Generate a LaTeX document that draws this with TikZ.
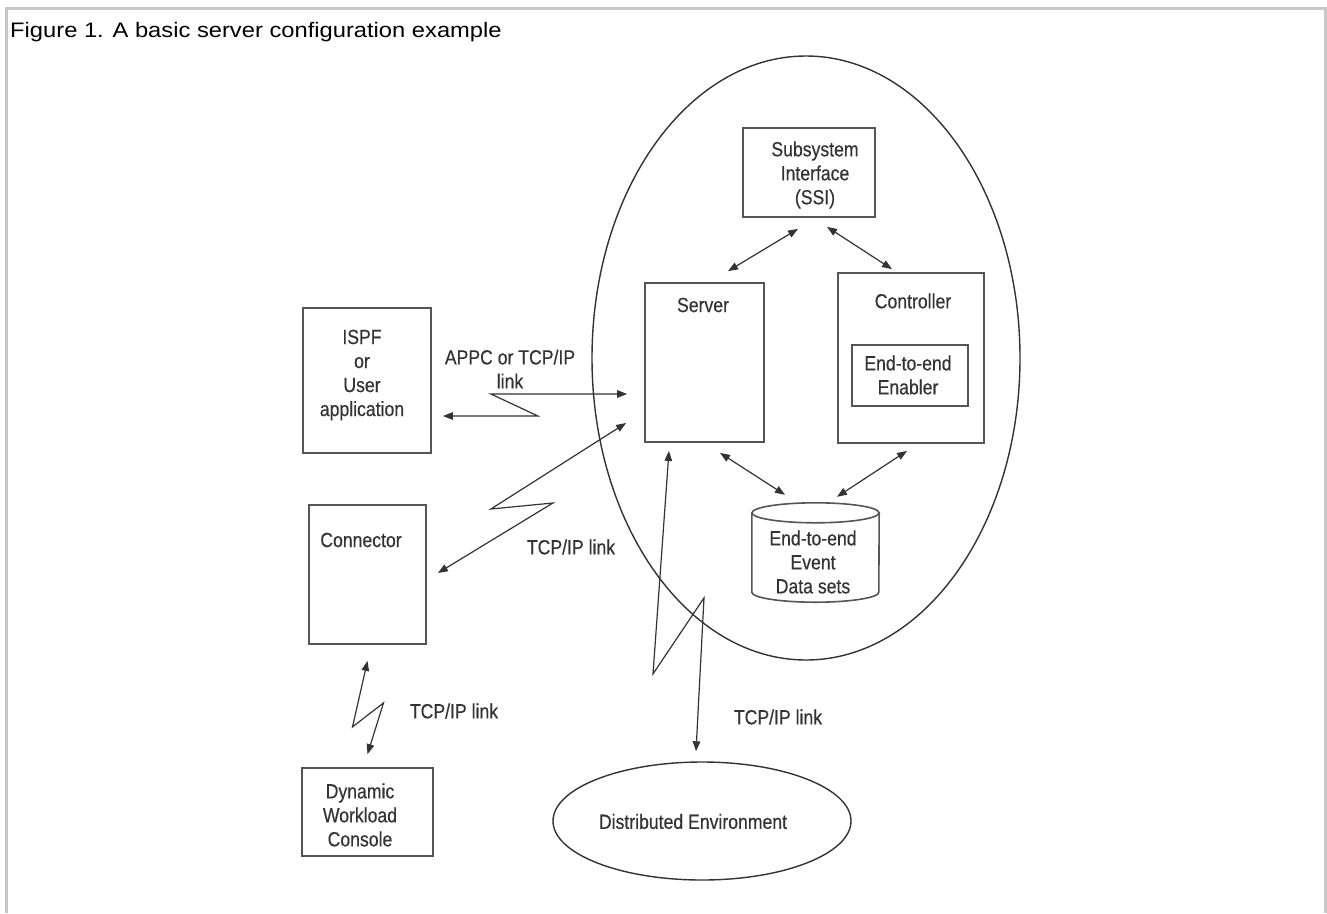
\documentclass[tikz,border=0pt]{standalone}
\usepackage{fontspec}
\setmainfont{Liberation Sans}
\newfontfamily\titlefont[FakeStretch=1.13]{Liberation Sans}
\newfontfamily\figfont[FakeStretch=0.86,FakeBold=0.4]{Liberation Sans}
\usetikzlibrary{arrows.meta,calc,shapes.geometric}

\definecolor{framegray}{HTML}{C8C8C8}
\definecolor{ink}{HTML}{333333}
\definecolor{boxline}{HTML}{555555}

\begin{document}
\begin{tikzpicture}[x=1pt,y=-1pt,
  >={Triangle[length=10pt,width=7.5pt]},
  box/.style={draw=boxline, line width=1.8pt, rectangle, inner sep=0pt},
  txt/.style={font=\figfont\fontsize{20.5}{24}\selectfont, text=ink, align=center, inner sep=0pt},
  link/.style={draw=ink, line width=1.2pt, <->},
  oval/.style={draw=ink, line width=1.4pt, ellipse, inner sep=0pt}]

\useasboundingbox (0,0) rectangle (1327,913);

% page frame and caption
\draw[framegray, line width=3pt] (6.5,913) -- (6.5,8.5) -- (1325.5,8.5) -- (1325.5,913);
\node[anchor=base west, inner sep=0pt, text=black,
      font=\titlefont\fontsize{21}{25}\selectfont] (title) at (10,37)
  {Figure 1. A basic server configuration example};

% host system
\node[oval, minimum width=428, minimum height=604] (host) at (806,358) {};

\node[box, minimum width=132, minimum height=89] (ssi) at (809,172.5) {};
\node[txt] (ssitext) at (815,175) {Subsystem\\Interface\\(SSI)};

\node[box, minimum width=119, minimum height=159] (server) at (704.5,362.5) {};
\node[txt] (servertext) at (703,305) {Server};

\node[box, minimum width=146, minimum height=170] (ctrl) at (911,358) {};
\node[txt] (ctrltext) at (913,301) {Controller};
\node[box, minimum width=116, minimum height=61] (enabler) at (910,375.5) {};
\node[txt] (enablertext) at (908,375) {End-to-end\\Enabler};

% event data sets cylinder
\node[minimum width=127, minimum height=99, inner sep=0pt] (cyl) at (815.5,552.5) {};
\draw[boxline, line width=1.6pt]
  ($(cyl.north west)+(0,10)$) -- ($(cyl.south west)+(0,-10)$)
  arc[start angle=180, end angle=360, x radius=63.5pt, y radius=10pt]
  -- ($(cyl.north east)+(0,10)$);
\draw[boxline, line width=1.6pt] ($(cyl.north)+(0,10)$) ellipse[x radius=63.5pt, y radius=10pt];
\node[txt] (cyltext) at (813,562) {End-to-end\\Event\\Data sets};

% clients
\node[box, minimum width=128, minimum height=145] (ispf) at (367,380.5) {};
\node[txt] (ispftext) at (362,375) {ISPF\\or\\User\\application};

\node[box, minimum width=117, minimum height=139] (conn) at (367.5,574.5) {};
\node[txt] (conntext) at (361,540) {Connector};

\node[box, minimum width=131, minimum height=88] (dwc) at (367.5,812) {};
\node[txt] (dwctext) at (360,815) {Dynamic\\Workload\\Console};

\node[oval, minimum width=298, minimum height=118] (dist) at (702,821) {};
\node[txt] (disttext) at (693,821.5) {Distributed Environment};

% links inside the host
\draw[link] ($(ssi.south)+(-11,11)$) -- ($(server.north)+(23.5,-11)$);
\draw[link] ($(ssi.south)+(18,9)$) -- ($(ctrl.north)+(-19,-3)$);
\draw[link] ($(server.south)+(15.5,10)$) -- ($(cyl.north)+(-30.5,-8)$);
\draw[link] ($(ctrl.south)+(-4,7)$) -- ($(cyl.north)+(21.5,-6)$);

% network links
\draw[link] ($(ispf.east)+(11,35.5)$) -- ++(95,0) -- ++(-47,-22)
  -- ($(server.west)+(-17,31.5)$);
\node[txt] (appclabel) at (510,369) {APPC or TCP/IP\\link};

\draw[link] ($(conn.east)+(11,-1.5)$) -- ++(115,-70) -- ++(-62,6)
  -- ($(server.west)+(-18,60.5)$);
\node[txt] (connlabel) at (571,547) {TCP/IP link};

\draw[link] ($(conn.south)+(0,16)$) -- ++(-15,66) -- ++(31,-24)
  -- ($(dwc.north)+(0,-13)$);
\node[txt] (dwclabel) at (454,711) {TCP/IP link};

\draw[link] ($(server.south)+(-35.5,8)$) -- ++(-16,223) -- ++(51,-76)
  -- ($(dist.north)+(-6,-10)$);
\node[txt] (distlabel) at (778,717) {TCP/IP link};

\end{tikzpicture}
\end{document}
